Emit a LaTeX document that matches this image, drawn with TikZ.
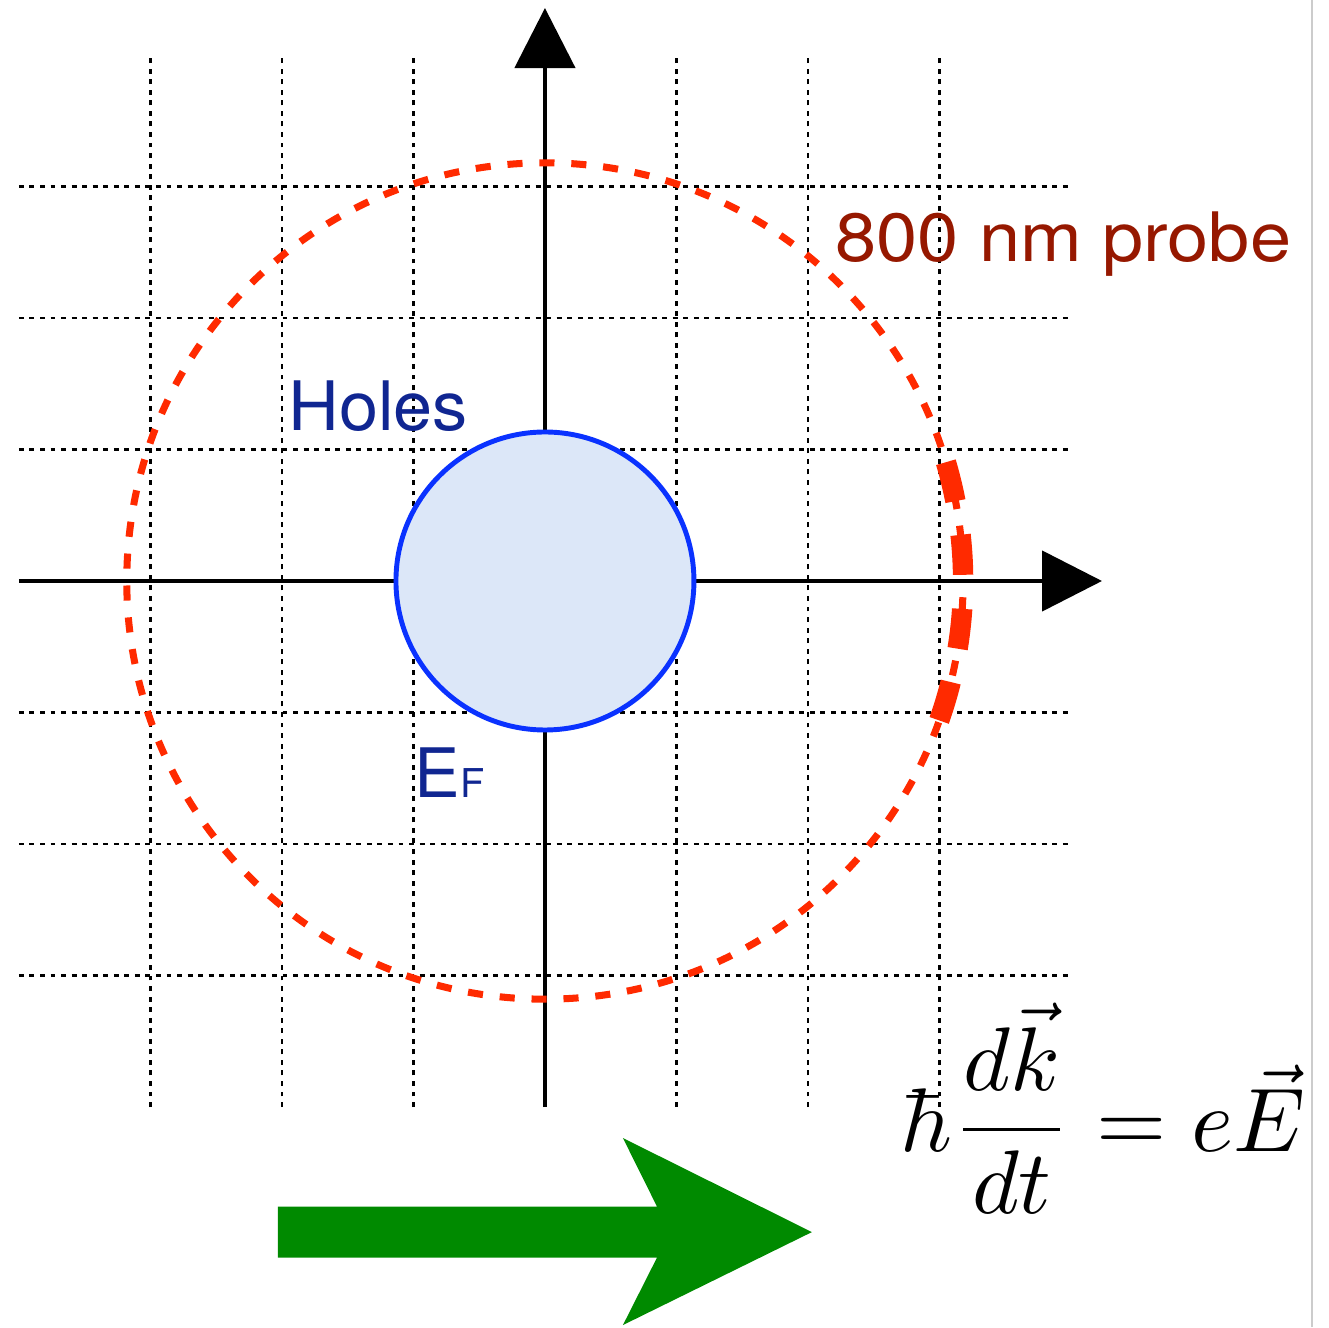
\documentclass[tikz,border=0pt]{standalone}
\usepackage{fontspec}
\newfontfamily\labelfont{TeX Gyre Heros}
\usetikzlibrary{arrows.meta}
\usepackage{amsmath}

\definecolor{probered}{RGB}{255,42,0}
\definecolor{probetext}{RGB}{150,24,0}
\definecolor{holeblue}{RGB}{16,38,145}
\definecolor{fermiblue}{RGB}{10,50,255}
\definecolor{fermifill}{RGB}{220,231,248}
\definecolor{fieldgreen}{RGB}{0,138,0}

\begin{document}
\begin{tikzpicture}[x=1.315cm, y=1.315cm,
    every node/.style={inner sep=0pt},
    gridline/.style={black, line width=0.75pt, dash pattern=on 1.4pt off 1.6pt},
    kaxis/.style={black, line width=1.3pt, -{Triangle[length=0.6cm, width=0.6cm]}},
    label/.style={anchor=base west, font=\labelfont\fontsize{19.4}{23}\selectfont}]

        % Radii
        \def\rFermi{1.133}
        \def\rProbe{3.18}
        \def\gridEnd{4}

        \useasboundingbox (-4.144,-5.673) rectangle (5.962,4.418);

        % Grid
        \foreach \i in {-3,-2,-1,1,2,3} {
            \draw[gridline] (\i,-\gridEnd) -- (\i,\gridEnd);
            \draw[gridline] (-\gridEnd,\i) -- (\gridEnd,\i);
        }

        % k axes
        \coordinate (kxstart) at (-\gridEnd,0);
        \coordinate (kxend) at (4.236,0);
        \coordinate (kystart) at (0,-\gridEnd);
        \coordinate (kyend) at (0,4.357);
        \draw[kaxis] (kxstart) -- (kxend);
        \draw[kaxis] (kystart) -- (kyend);

        % Fermi sphere
        \draw[fermiblue, fill=fermifill, line width=1.4pt] (0,0) circle (\rFermi);

        % 800 nm probe circle
        \draw[probered, line width=2pt, dash pattern=on 4.3pt off 4.791pt, dash phase=6.7pt]
            (0,0) circle (\rProbe);
        \draw[probered, line width=5.8pt, dash pattern=on 11.4pt off 9.7pt]
            (16.5:\rProbe) arc[start angle=16.5, end angle=-19.7, radius=\rProbe];

        % Field arrow
        \fill[fieldgreen] (-2.030,-4.757) -- (0.852,-4.757) -- (0.593,-4.236)
            -- (2.030,-4.951) -- (0.593,-5.658) -- (0.852,-5.145)
            -- (-2.030,-5.145) -- cycle;

        % Labels
        \node[label, text=probetext, xscale=1.085] (probe) at (2.2,2.426) {800 nm probe};
        \node[label, text=holeblue, xscale=1.03] (holes) at (-1.955,1.148) {Holes};
        \node[label, text=holeblue] (fermi) at (-0.995,-1.643)
            {E{\fontsize{11.3}{13}\selectfont F}};

        \node[anchor=base west, scale=2.57] (eqn) at (2.69,-4.342)
            {$\displaystyle \hbar\frac{d\vec{k}}{dt} = e\vec{E}$};

        % Page edge
        \draw[gray!40, line width=0.6pt] (5.833,-5.673) -- (5.833,4.418);

    \end{tikzpicture}
\end{document}
